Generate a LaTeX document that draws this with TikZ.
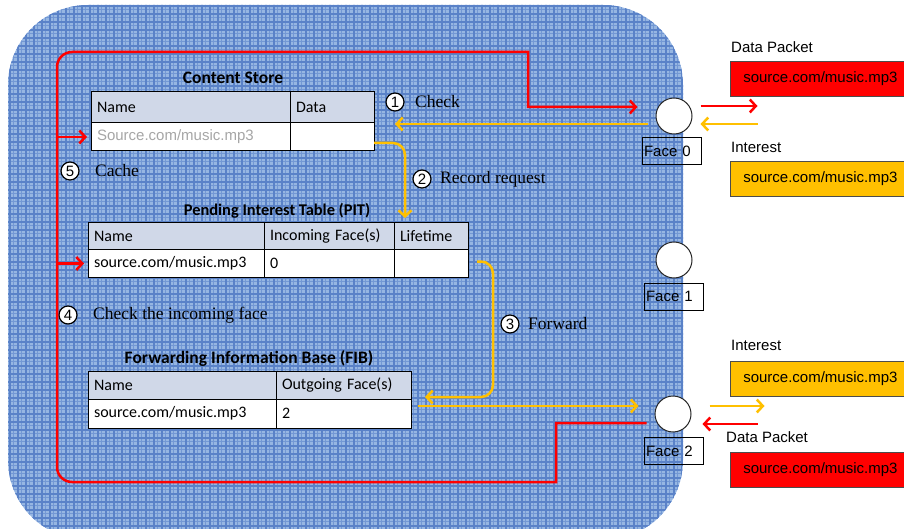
\documentclass[tikz,border=0pt]{standalone}
\usepackage{fontspec}
\newfontfamily\carlito{Carlito}
\newfontfamily\arialf{Liberation Sans}
\newfontfamily\stepfont{Liberation Serif}
\usetikzlibrary{arrows.meta,calc}
\definecolor{pktred}{RGB}{255,0,0}
\definecolor{pktyel}{RGB}{255,192,0}
\definecolor{hdrfill}{RGB}{208,216,232}
\definecolor{bgbase}{RGB}{150,182,226}
\definecolor{bgline}{RGB}{90,130,200}
\definecolor{bgfine}{RGB}{115,152,212}
\definecolor{cellgray}{RGB}{166,166,166}
\tikzset{
  cell/.style={draw=black, line width=1pt, anchor=north west, outer sep=0pt,
    inner xsep=6pt, inner ysep=0pt, align=left,
    font=\carlito\fontsize{16}{18}\selectfont},
  hdr/.style={cell, fill=hdrfill},
  val/.style={cell, fill=white},
  tbltitle/.style={font=\carlito\bfseries\fontsize{16}{18}\selectfont, inner sep=0pt},
  face/.style={circle, draw=black!85, fill=white, line width=1pt,
    minimum size=36pt, inner sep=0pt},
  facelbl/.style={draw=black, line width=1pt, minimum height=27pt, text width=55pt,
    inner xsep=2pt, inner ysep=0pt, align=left, font=\arialf\fontsize{15}{18}\selectfont},
  pkt/.style={draw=black!70, line width=0.8pt, minimum width=180pt, minimum height=35pt,
    anchor=north west, inner sep=0pt, font=\arialf\fontsize{15}{18}\selectfont},
  pktlbl/.style={anchor=west, inner sep=0pt, font=\arialf\fontsize{15}{18}\selectfont},
  stepnum/.style={circle, draw=black, fill=white, line width=1.2pt, minimum size=18pt,
    inner sep=0pt, font=\arialf\fontsize{15}{16}\selectfont},
  steptext/.style={anchor=west, inner sep=0pt, font=\stepfont\fontsize{17.5}{20}\selectfont},
  tip/.style={-{Straight Barb[length=6pt,width=13pt]}},
  redline/.style={draw=pktred, line width=2.5pt},
  yelline/.style={draw=pktyel, line width=2.5pt},
}
\begin{document}
\begin{tikzpicture}[x=1pt,y=-1pt]
\useasboundingbox (0,0) rectangle (904,529);

% router body with a plaid fill
\begin{scope}
  \clip[rounded corners=80pt] (8,5) rectangle (683,540);
  \fill[bgbase] (0,0) rectangle (700,540);
  \foreach \x in {13,21,...,690} \draw[bgfine, line width=0.7pt] (\x,0) -- (\x,540);
  \foreach \y in {9,17,...,540} \draw[bgfine, line width=0.7pt] (0,\y) -- (700,\y);
  \foreach \x in {10,18,...,690} \draw[bgline, line width=1.2pt] (\x,0) -- (\x,540);
  \foreach \y in {6,14,...,540} \draw[bgline, line width=1.2pt] (0,\y) -- (700,\y);
\end{scope}

% Content Store
\node[tbltitle, font=\carlito\bfseries\fontsize{17.5}{18}\selectfont] (csT) at (233,78) {Content Store};
\node[hdr, text width=187pt, minimum height=31pt] (csHN) at (91,92) {Name};
\node[hdr, text width=72pt, minimum height=31pt] (csHD) at (csHN.north east) {Data};
\node[val, text width=187pt, minimum height=28pt, text=cellgray,
  font=\arialf\fontsize{15}{18}\selectfont] (csVN) at (csHN.south west) {Source.com/music.mp3};
\node[val, text width=72pt, minimum height=28pt] (csVD) at (csHD.south west) {};

% Pending Interest Table
\node[tbltitle, font=\carlito\bfseries\fontsize{16.4}{18}\selectfont] (pitT) at (277,211) {Pending Interest Table (PIT)};
\node[hdr, text width=164pt, minimum height=27pt] (pitHN) at (88,223) {Name};
\node[hdr, text width=118pt, minimum height=27pt] (pitHI) at (pitHN.north east) {Incoming Face(s)};
\node[hdr, text width=62pt, minimum height=27pt] (pitHL) at (pitHI.north east) {Lifetime};
\node[val, text width=164pt, minimum height=27pt] (pitVN) at (pitHN.south west) {source.com/music.mp3};
\node[val, text width=118pt, minimum height=27pt] (pitVI) at (pitHI.south west) {0};
\node[val, text width=62pt, minimum height=27pt] (pitVL) at (pitHL.south west) {};

% Forwarding Information Base
\node[tbltitle, font=\carlito\bfseries\fontsize{17.5}{18}\selectfont] (fibT) at (249,358) {Forwarding Information Base (FIB)};
\node[hdr, text width=176pt, minimum height=28pt] (fibHN) at (88,371) {Name};
\node[hdr, text width=123pt, minimum height=28pt] (fibHO) at (fibHN.north east) {Outgoing Face(s)};
\node[val, text width=176pt, minimum height=29pt] (fibVN) at (fibHN.south west) {source.com/music.mp3};
\node[val, text width=123pt, minimum height=29pt] (fibVO) at (fibHO.south west) {2};

% faces
\node[face] (f0) at (674,116) {};
\node[face] (f1) at (674,260) {};
\node[face] (f2) at (673,414) {};
\node[facelbl] (f0l) at (671.5,151.5) {Face 0};
\node[facelbl] (f1l) at (673.5,296.5) {Face 1};
\node[facelbl] (f2l) at (673.5,451) {Face 2};

% packets
\node[pktlbl] (dp0l) at (731,47) {Data Packet};
\node[pkt, fill=pktred] (dp0) at (730,61) {source.com/music.mp3};
\node[pktlbl] (in0l) at (731,147) {Interest};
\node[pkt, fill=pktyel] (in0) at (730,161) {source.com/music.mp3};
\node[pktlbl] (in2l) at (731,345) {Interest};
\node[pkt, fill=pktyel] (in2) at (730,361) {source.com/music.mp3};
\node[pktlbl] (dp2l) at (726,437) {Data Packet};
\node[pkt, fill=pktred] (dp2) at (730,452) {source.com/music.mp3};

% step labels
\node[stepnum] (n1) at (395,102) {1};
\node[steptext] (t1) at (415,102) {Check};
\node[stepnum] (n2) at (422,179) {2};
\node[steptext] (t2) at (440,179) {Record request};
\node[stepnum] (n3) at (510,324) {3};
\node[steptext] (t3) at (528,324) {Forward};
\node[stepnum] (n4) at (68,315) {4};
\node[steptext] (t4) at (93,315) {Check the incoming face};
\node[stepnum] (n5) at (70,171) {5};
\node[steptext] (t5) at (95,171) {Cache};

% data packet path through the router: square corners near the faces,
% rounded corners on the far side
\coordinate (r0) at ($(f2.west)+(-8,9)$);
\coordinate (r1) at ($(f0.west)+(-18,-9)$);
\draw[redline, tip] (r0) -- (556,423) -- (556,482) -- (540,482)
  [rounded corners=15pt] -- (57,482) -- (57,52) -- (510,52)
  [sharp corners] -- (528,52) -- (528,107) -- (r1);
\coordinate (rb1) at (57,137);
\coordinate (rb2) at (57,263.5);
\draw[redline, tip] (rb1) -- ($(csVN.west)+(-4,0)$);
\draw[redline, tip] (rb2) -- ($(pitVN.west)+(-4,0)$);

% interest path through the router
\coordinate (y1s) at ($(f0.west)+(-8,8)$);
\coordinate (y1e) at ($(csVD.east)+(21,-13)$);
\draw[yelline, tip] (y1s) -- (y1e);
\draw[yelline, tip, rounded corners=12pt] ($(csVD.east)+(0,6)$) -| ($(pitHL.north west)+(11,-5)$);
\coordinate (y3s) at ($(pitVL.east)+(9,-2)$);
\coordinate (y3e) at ($(fibVO.east)+(14,-16.5)$);
\draw[yelline, tip, rounded corners=12pt] (y3s) -| ($(y3e)+(68,0)$) -- (y3e);
\draw[yelline, tip] ($(fibVO.east)+(7,-7.5)$) -- ($(f2.west)+(-16,-8)$);

% packets entering and leaving the faces
\draw[redline, tip] ($(f0.east)+(8,-10)$) -- ($(f0.east)+(65,-10)$);
\draw[yelline, tip] ($(f0.east)+(65,8)$) -- ($(f0.east)+(8,8)$);
\draw[yelline, tip] ($(f2.east)+(18,-8)$) -- ($(f2.east)+(73,-8)$);
\draw[redline, tip] ($(f2.east)+(66,10)$) -- ($(f2.east)+(11,10)$);
\end{tikzpicture}
\end{document}
